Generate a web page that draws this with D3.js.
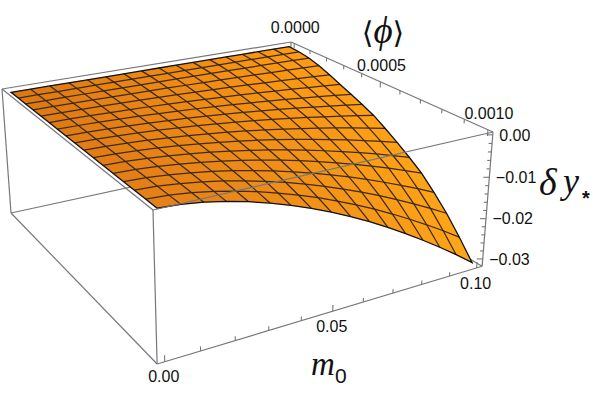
<!DOCTYPE html>
<html>
<head>
<meta charset="utf-8">
<style>
  html, body { margin: 0; padding: 0; background: #fff; }
  svg { display: block; }
  text { font-family: "Liberation Sans", Arial, sans-serif; fill: #111; }
  .title { font-family: "Liberation Serif", serif; font-style: italic; }
  .bracket { font-family: "DejaVu Sans", sans-serif; font-style: normal; }
</style>
</head>
<body>
<svg id="chart" width="593" height="395"></svg>
<script src="https://cdn.jsdelivr.net/npm/d3@7"></script>
<script>
// mesh positions on the two base axes
const m0Values = [0, 0.00625, 0.0125, 0.01875, 0.025, 0.03125, 0.0375, 0.04375, 0.05, 0.05625, 0.0625, 0.06875, 0.075, 0.08125, 0.0875, 0.09375, 0.1];
const phiValues = [0, 0.0000625, 0.000125, 0.0001875, 0.00025, 0.0003125, 0.000375, 0.0004375, 0.0005, 0.0005625, 0.000625, 0.0006875, 0.00075, 0.0008125, 0.000875, 0.0009375, 0.001];

// drop of delta y in units of 1e-4, one row per phi value
const dropRows = [
  [0, 0, 0, 0, 0, 0, 0, 0, 0, 0, 0, 0, 0, 0, 0, 0, 0],
  [0, 0, 0.1, 0.1, 0.2, 0.3, 0.4, 0.5, 0.7, 0.8, 1.0, 1.2, 1.3, 1.5, 1.7, 2.0, 2.2],
  [0, 0.1, 0.2, 0.4, 0.7, 1.0, 1.3, 1.7, 2.1, 2.6, 3.1, 3.7, 4.2, 4.8, 5.5, 6.2, 6.9],
  [0, 0.1, 0.5, 0.9, 1.5, 2.1, 2.9, 3.7, 4.7, 5.7, 6.8, 8.0, 9.2, 10.6, 12.0, 13.4, 15.0],
  [0, 0.3, 0.8, 1.6, 2.6, 3.8, 5.1, 6.6, 8.3, 10.1, 12.0, 14.1, 16.4, 18.7, 21.2, 23.8, 26.5],
  [0, 0.4, 1.2, 2.4, 3.8, 5.5, 7.5, 9.7, 12.2, 14.8, 17.7, 20.8, 24.1, 27.5, 31.2, 35.0, 39.0],
  [0, 0.5, 1.6, 3.1, 5.0, 7.3, 9.9, 12.8, 16.1, 19.6, 23.4, 27.4, 31.8, 36.3, 41.1, 46.2, 51.5],
  [0, 0.6, 1.9, 3.9, 6.2, 9.1, 12.3, 15.9, 19.9, 24.3, 29.0, 34.1, 39.5, 45.2, 51.1, 57.4, 64.0],
  [0, 0.8, 2.4, 4.7, 7.6, 11.1, 15.0, 19.5, 24.3, 29.7, 35.4, 41.6, 48.1, 55.1, 62.3, 70.0, 78.0],
  [0, 0.9, 2.9, 5.8, 9.4, 13.7, 18.6, 24.1, 30.2, 36.8, 43.9, 51.6, 59.7, 68.3, 77.3, 86.8, 96.7],
  [0, 1.1, 3.6, 7.1, 11.4, 16.6, 22.5, 29.2, 36.5, 44.5, 53.1, 62.4, 72.2, 82.6, 93.5, 105.0, 117.0],
  [0, 1.3, 4.2, 8.4, 13.5, 19.7, 26.7, 34.6, 43.3, 52.8, 63.0, 74.0, 85.7, 98.0, 110.9, 124.6, 138.8],
  [0, 1.6, 4.9, 9.8, 15.8, 23.0, 31.3, 40.5, 50.6, 61.7, 73.6, 86.5, 100.1, 114.6, 129.6, 145.5, 162.2],
  [0, 1.9, 5.9, 11.7, 18.8, 27.4, 37.3, 48.2, 60.3, 73.5, 87.8, 103.1, 119.4, 136.6, 154.6, 173.5, 193.4],
  [0, 2.2, 6.9, 13.7, 22.2, 32.3, 43.9, 56.8, 71.0, 86.6, 103.4, 121.4, 140.5, 160.8, 182.0, 204.3, 227.8],
  [0, 2.6, 8.2, 16.2, 26.1, 38.0, 51.7, 66.9, 83.7, 102.0, 121.8, 143.0, 165.6, 189.5, 214.4, 240.7, 268.3],
  [0, 3.0, 9.5, 18.8, 30.4, 44.2, 60.1, 77.8, 97.3, 118.6, 141.6, 166.3, 192.5, 220.3, 249.3, 279.9, 312.0]
];

const m0Ticks = [0, 0.01, 0.02, 0.03, 0.04, 0.05, 0.06, 0.07, 0.08, 0.09, 0.1];
const m0Labels = ["0.00", "0.05", "0.10"];
const phiTicks = [0, 0.0001, 0.0002, 0.0003, 0.0004, 0.0005, 0.0006, 0.0007, 0.0008, 0.0009, 0.001];
const phiLabels = ["0.0000", "0.0005", "0.0010"];
const dyTicks = [0, -0.002, -0.004, -0.006, -0.008, -0.01, -0.012, -0.014, -0.016, -0.018, -0.02, -0.022, -0.024, -0.026, -0.028, -0.03];
const dyLabels = ["0.00", "\u22120.01", "\u22120.02", "\u22120.03"];

const svg = d3.select("#chart");

// box coordinates run 0..1, the surface keeps a 2% padding like the original
const uScale = d3.scaleLinear().domain([-0.00208, 0.10208]).range([0, 1]);
const vScale = d3.scaleLinear().domain([-0.0000208, 0.0010208]).range([0, 1]);
const wScale = d3.scaleLinear().domain([0.00065, -0.03185]).range([0, 1]);

// perspective camera, fitted to the corners of the box in the picture
function project(u, v, w) {
  const d = 0.14156 * u - 0.2341 * v + 0.04 * w + 1;
  return [
    (330.19 * u + 115.18 * v + 9.44 * w + 2) / d,
    (-41.05 * u + 71.84 * v + 132.5 * w + 89) / d
  ];
}

const line = d3.line();
const boxColor = "#75777d";

function edge(a, b, g) {
  g.append("path")
    .attr("d", line([project(...a), project(...b)]))
    .attr("fill", "none")
    .attr("stroke", boxColor)
    .attr("stroke-width", 1.2);
}

// edges behind the surface
const back = svg.append("g");
edge([0, 0, 1], [1, 0, 1], back);
edge([1, 0, 1], [1, 1, 1], back);
edge([1, 0, 0], [1, 0, 1], back);

// surface
const grid = dropRows.map((row, j) => row.map((drop, i) =>
  project(uScale(m0Values[i]), vScale(phiValues[j]), wScale(-drop / 1e4))));

const nearColors = d3.interpolateRgb("#e57f18", "#ffa618");
const farColors = d3.interpolateRgb("#db7814", "#ff9a14");
const surface = svg.append("g");
for (let i = m0Values.length - 2; i >= 0; i--) {
  for (let j = 0; j < phiValues.length - 1; j++) {
    const s = (i + 0.5) / (m0Values.length - 1);
    const t = (j + 0.5) / (phiValues.length - 1);
    const fill = d3.interpolateRgb(farColors(s), nearColors(s))(t);
    surface.append("path")
      .attr("d", line([grid[j][i], grid[j][i + 1], grid[j + 1][i + 1], grid[j + 1][i]]) + "Z")
      .attr("fill", fill)
      .attr("stroke", fill)
      .attr("stroke-width", 0.5);
  }
}

// mesh lines
const mesh = svg.append("g").attr("fill", "none").attr("stroke", "#3d2a10").attr("stroke-width", 1.25);
grid.forEach((row, j) => {
  if (j > 0 && j < grid.length - 1) mesh.append("path").attr("d", line(row));
});
m0Values.forEach((m, i) => {
  if (i > 0 && i < m0Values.length - 1) mesh.append("path").attr("d", line(grid.map(row => row[i])));
});

// outline of the surface
const outline = grid[0].concat(grid.map(row => row[row.length - 1]),
  grid[grid.length - 1].slice().reverse(), grid.map(row => row[0]).reverse());
svg.append("path")
  .attr("d", line(outline) + "Z")
  .attr("fill", "none")
  .attr("stroke", "#111")
  .attr("stroke-width", 1.3);

// edges in front of the surface
const front = svg.append("g");
edge([0, 0, 0], [1, 0, 0], front);
edge([1, 0, 0], [1, 1, 0], front);
edge([1, 1, 0], [0, 1, 0], front);
edge([0, 1, 0], [0, 0, 0], front);
edge([0, 0, 0], [0, 0, 1], front);
edge([0, 1, 0], [0, 1, 1], front);
edge([1, 1, 0], [1, 1, 1], front);
edge([0, 0, 1], [0, 1, 1], front);
edge([0, 1, 1], [1, 1, 1], front);

// ticks
const ticks = svg.append("g");
function tick(p, q) {
  ticks.append("path")
    .attr("d", line([p, q]))
    .attr("stroke", boxColor)
    .attr("stroke-width", 1.1);
}
m0Ticks.forEach((m, i) => {
  const u = uScale(m);
  tick(project(u, 1, 1), project(u, 1, i % 5 === 0 ? 0.955 : 0.97));
});
phiTicks.forEach((p, i) => {
  const v = vScale(p);
  tick(project(1, v, 0), project(1, v, i % 5 === 0 ? 0.045 : 0.03));
});
dyTicks.forEach((d, i) => {
  const p = project(1, 1, wScale(d));
  tick(p, [p[0] - (i % 5 === 0 ? 6 : 3.5), p[1]]);
});

// tick labels
function label(str, x, y, anchor) {
  svg.append("text")
    .attr("x", x)
    .attr("y", y)
    .attr("dy", "0.36em")
    .attr("text-anchor", anchor)
    .attr("font-size", 16)
    .text(str);
}
[0, 0.05, 0.1].forEach((m, i) => {
  const p = project(uScale(m), 1, 1);
  label(m0Labels[i], p[0] - 1, p[1] + 15, "middle");
});
[0, 0.0005, 0.001].forEach((f, i) => {
  const p = project(1, vScale(f), 0);
  label(phiLabels[i], p[0] + 1, p[1] - 16.5, "middle");
});
[0, -0.01, -0.02, -0.03].forEach((d, i) => {
  const p = project(1, 1, wScale(d));
  label(dyLabels[i], p[0] + 6.5, p[1], "start");
});

// axis titles
const phiTitle = svg.append("text").attr("x", 383).attr("y", 43).attr("text-anchor", "middle")
  .attr("class", "title").attr("font-size", 37);
phiTitle.append("tspan").attr("class", "bracket").attr("font-size", 30).text("\u27E8");
phiTitle.append("tspan").text("\u03D5");
phiTitle.append("tspan").attr("class", "bracket").attr("font-size", 30).text("\u27E9");
svg.append("text").attr("x", 539).attr("y", 195).attr("class", "title").attr("font-size", 38).text("\u03B4");
svg.append("text").attr("x", 563).attr("y", 193).attr("class", "title").attr("font-size", 36).text("y");
svg.append("text").attr("x", 586).attr("y", 205).attr("text-anchor", "middle").attr("font-size", 20).attr("font-weight", "bold").text("*");
svg.append("text").attr("x", 311).attr("y", 375).attr("class", "title").attr("font-size", 33).text("m");
svg.append("text").attr("x", 335).attr("y", 383).attr("font-size", 21).text("0");
</script>
</body>
</html>
